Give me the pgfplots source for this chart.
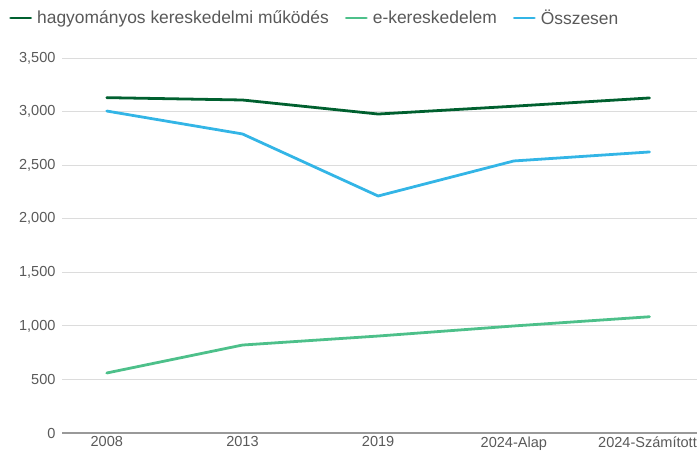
\documentclass[border=0pt]{standalone}
\usepackage{pgfplots}
\pgfplotsset{compat=1.18}
\usepackage{fontspec}
\setmainfont{Liberation Sans}
\definecolor{dkgreen}{HTML}{00602F}
\definecolor{ltgreen}{HTML}{4DC08A}
\definecolor{skyblue}{HTML}{33B5E6}
\definecolor{txtgray}{HTML}{595959}
\definecolor{gridgray}{HTML}{DCDCDC}
\begin{document}
\begin{tikzpicture}
\useasboundingbox (-62bp,-18bp) rectangle (635bp,433bp);
\begin{axis}[
  scale only axis,
  width=635bp, height=375bp,
  at={(0,0)}, anchor=south west,
  xmin=-0.33, xmax=4.35,
  ymin=0, ymax=3500,
  xtick={0,1,2,3,4},
  xticklabels={2008,2013,2019,2024-Alap,\hspace{-4bp}2024-Számított},
  ytick={0,500,...,3500},
  ymajorgrids,
  grid style={gridgray, line width=0.8pt},
  axis line style={draw=none},
  extra y ticks={0},
  extra y tick labels={},
  extra y tick style={grid style={gray!80, line width=1.4pt}},
  major tick length=0pt,
  tick label style={font=\fontsize{14.6}{17}\selectfont, text=txtgray},
  /pgf/number format/assume math mode=true,
  /pgf/number format/1000 sep={,},
  yticklabel style={xshift=-3bp},
  xticklabel style={yshift=0bp},
  legend style={at={(-56bp,415bp)}, anchor=west, draw=none, fill=none,
    font=\fontsize{17.5}{19}\selectfont, text=txtgray, legend columns=-1,
    /tikz/every even column/.append style={column sep=14bp},
    /tikz/every odd column/.append style={column sep=3bp}},
  legend image code/.code={\draw[line width=3pt,#1] (0bp,0bp) -- (20bp,0bp);},
  clip=false,
]
\addplot[dkgreen, line width=2.8pt, line join=round, line cap=round] coordinates {(0,3130) (1,3108) (2,2977) (3,3050) (4,3127)};
\addlegendentry{hagyományos kereskedelmi működés}
\addplot[ltgreen, line width=2.8pt, line join=round, line cap=round] coordinates {(0,560) (1,821) (2,905) (3,999) (4,1085)};
\addlegendentry{e-kereskedelem}
\addplot[skyblue, line width=2.8pt, line join=round, line cap=round] coordinates {(0,3005) (1,2791) (2,2212) (3,2539) (4,2623)};
\addlegendentry{Összesen}
\end{axis}
\end{tikzpicture}
\end{document}
